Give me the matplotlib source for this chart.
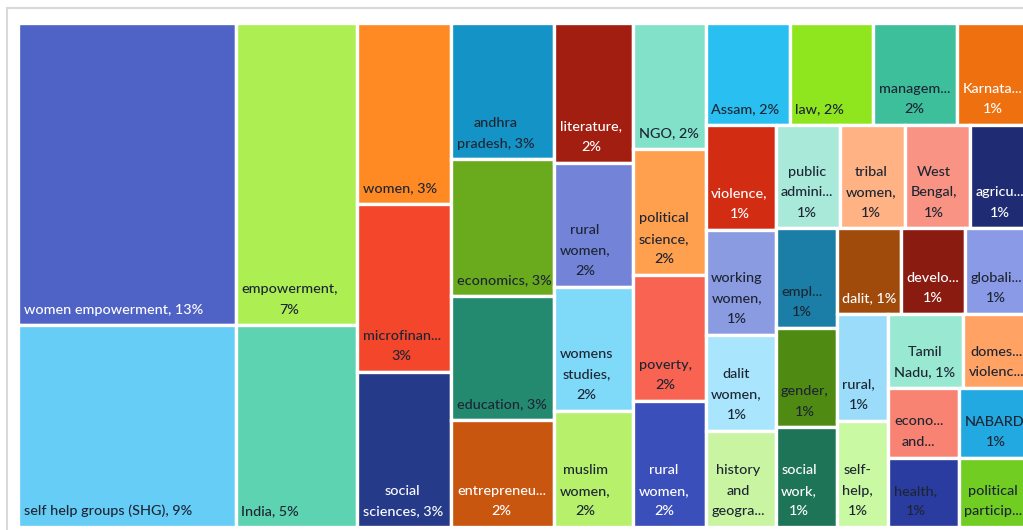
import matplotlib
matplotlib.use("Agg")
import matplotlib.pyplot as plt
from matplotlib.patches import Rectangle

# keyword frequencies (number of records per author keyword)
labels = [
    "women empowerment, {p}", "self help groups (SHG), {p}", "empowerment,\n{p}", "India, {p}",
    "women, {p}", "microfinan...\n{p}", "social\nsciences, {p}",
    "andhra\npradesh, {p}", "economics, {p}", "education, {p}", "entrepreneu...\n{p}",
    "literature,\n{p}", "rural\nwomen,\n{p}", "womens\nstudies,\n{p}", "muslim\nwomen,\n{p}",
    "NGO, {p}", "political\nscience,\n{p}", "poverty,\n{p}", "rural\nwomen,\n{p}",
    "Assam, {p}", "law, {p}", "managem...\n{p}", "Karnata...\n{p}",
    "violence,\n{p}", "working\nwomen,\n{p}", "dalit\nwomen,\n{p}", "history\nand\ngeogra...",
    "public\nadmini...\n{p}", "tribal\nwomen,\n{p}", "West\nBengal,\n{p}", "agricu...\n{p}",
    "empl...\n{p}", "gender,\n{p}", "social\nwork,\n{p}",
    "dalit, {p}", "develo...\n{p}", "globali...\n{p}",
    "rural,\n{p}", "self-\nhelp,\n{p}", "Tamil\nNadu, {p}", "domes...\nviolenc...",
    "econo...\nand...", "health,\n{p}", "NABARD,\n{p}", "political\nparticip...",
]
counts = [
    108, 72, 60, 40,
    28, 26, 24,
    23, 23, 21, 18,
    18, 16, 16, 15,
    15, 15, 15, 15,
    14, 14, 14, 12,
    12, 12, 11, 11,
    11, 11, 11, 10,
    10, 10, 10,
    9, 9, 9,
    9, 9, 9, 8,
    8, 8, 8, 8,
]
colors = [
    "#4f63c6", "#66cdf6", "#adef52", "#5dd3b1",
    "#ff8a23", "#f4462a", "#263a8a",
    "#1493c6", "#6aab1d", "#238a70", "#c9560f",
    "#a21e11", "#7283d8", "#7fd9f8", "#b7f16c",
    "#82e1c9", "#ffa04f", "#f96352", "#3b4fba",
    "#29bff1", "#8fe61f", "#3dbf9b", "#ef700f",
    "#d22c13", "#8a9be2", "#a9e5fc", "#c9f5a3",
    "#a9e9da", "#ffb283", "#f99383", "#1f2b72",
    "#1a7ea6", "#4f8b13", "#1e7457",
    "#a04b0b", "#8a1b11", "#8a9ae6",
    "#9adcfa", "#c9f9a3", "#99e9d2", "#ffa263",
    "#f98372", "#2b3ca1", "#22a9e1", "#71cd22",
]
light_text = {0, 6, 10, 11, 18, 22, 23, 30, 33, 34, 35}

# layout canvas is wider than the drawing area, cells come out a bit tall
DOM_W, DOM_H = 285.0, 100.0


def worst(row, side):
    t = sum(row) / side
    return max(max(a / (t * t), (t * t) / a) for a in row)


def squarify(areas, x, y, dx, dy):
    rects = []
    i = 0
    while i < len(areas):
        side = min(dx, dy)
        row = [areas[i]]
        j = i + 1
        while j < len(areas) and worst(row + [areas[j]], side) <= worst(row, side):
            row.append(areas[j])
            j += 1
        t = sum(row) / side
        if dx >= dy:
            yy = y
            for a in row:
                rects.append((x, yy, t, a / t))
                yy += a / t
            x += t
            dx -= t
        else:
            xx = x
            for a in row:
                rects.append((xx, y, a / t, t))
                xx += a / t
            y += t
            dy -= t
        i = j
    return rects


total = sum(counts)
areas = [c / total * DOM_W * DOM_H for c in counts]
rects = squarify(areas, 0.0, 0.0, DOM_W, DOM_H)

fig = plt.figure(figsize=(10.23, 5.30), dpi=100)
ax = fig.add_axes([18 / 1023, 3 / 530, 1011 / 1023, 504 / 530])
ax.set_xlim(0, DOM_W)
ax.set_ylim(DOM_H, 0)
ax.axis("off")

for k, (x, y, w, h) in enumerate(rects):
    ax.add_patch(Rectangle((x, y), w, h, facecolor=colors[k], edgecolor="white", linewidth=2.4))
    pct = round(100 * counts[k] / total)
    txt = labels[k].format(p=f"{pct}%")
    ax.annotate(txt, xy=(x, y + h), xytext=(4.0, 7.0), textcoords="offset points",
                ha="left", va="bottom", multialignment="center", linespacing=1.85,
                fontsize=10.4, family="Lato", fontweight="medium", annotation_clip=False,
                color="white" if k in light_text else "#1d2533")

fig.add_artist(Rectangle((7 / 1023, -0.1), 1.2, (530 - 8) / 530 + 0.1, transform=fig.transFigure,
                         fill=False, edgecolor="#d9d9d9", linewidth=1.5))

fig.savefig("out.png", dpi=100)
